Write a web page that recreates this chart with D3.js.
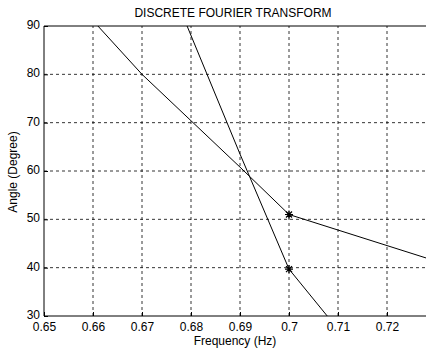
<!DOCTYPE html>
<html>
<head>
<meta charset="utf-8">
<script src="https://cdn.jsdelivr.net/npm/d3@7"></script>
<style>
  body { margin: 0; background: #fff; }
  svg { display: block; font-family: "Liberation Sans", Arial, sans-serif; }
  .grid line { stroke: #000; stroke-dasharray: 3,3; stroke-width: 0.8; }
</style>
</head>
<body>
<div id="chart"></div>
<script>
// curve 1 (shallow)
let freqA = [0.661, 0.67, 0.69, 0.70, 0.728]
let angleA = [90, 80, 60.8, 51, 42]
// curve 2 (steep)
let freqB = [0.6792, 0.69, 0.70, 0.7078]
let angleB = [90, 63.5, 39.7, 30]
// asterisk markers
let markFreq = [0.70, 0.70]
let markAngle = [51, 39.7]

let xTicks = [0.65, 0.66, 0.67, 0.68, 0.69, 0.70, 0.71, 0.72]
let yTicks = [30, 40, 50, 60, 70, 80, 90]

let W = 426, H = 353
let margin = {top: 26, left: 44, bottom: 37}

let svg = d3.select("#chart").append("svg")
    .attr("width", W)
    .attr("height", H)

let x = d3.scaleLinear().domain([0.65, 0.73]).range([margin.left, margin.left + 392])
let y = d3.scaleLinear().domain([30, 90]).range([H - margin.bottom, margin.top])

// clip for the plot region
svg.append("clipPath").attr("id", "clip")
    .append("rect")
    .attr("x", x(0.65)).attr("y", y(90))
    .attr("width", x(0.73) - x(0.65)).attr("height", y(30) - y(90))

// grid
let grid = svg.append("g").attr("class", "grid")
grid.selectAll(".gx").data(xTicks.slice(1)).enter().append("line")
    .attr("x1", d => x(d)).attr("x2", d => x(d))
    .attr("y1", y(30)).attr("y2", y(90))
grid.selectAll(".gy").data(yTicks.slice(1, -1)).enter().append("line")
    .attr("x1", x(0.65)).attr("x2", x(0.73))
    .attr("y1", d => y(d)).attr("y2", d => y(d))

// axes (MATLAB-style inward ticks)
let xAxis = d3.axisBottom(x).tickValues(xTicks).tickSizeInner(-4).tickSizeOuter(0)
    .tickFormat(d => d3.format("")(+d.toFixed(2)))
let yAxis = d3.axisLeft(y).tickValues(yTicks).tickSizeInner(-4).tickSizeOuter(0)

let gx = svg.append("g").attr("transform", `translate(0,${y(30)})`).call(xAxis)
gx.select(".domain").remove()
gx.selectAll("line").attr("stroke", "#000")
gx.selectAll("text").attr("y", 6).attr("dy", "0.71em")
    .style("font-size", "12px").attr("fill", "#000")

let gy = svg.append("g").attr("transform", `translate(${x(0.65)},0)`).call(yAxis)
gy.select(".domain").remove()
gy.selectAll("line").attr("stroke", "#000")
gy.selectAll("text").attr("x", -4).attr("dy", "0.2em")
    .style("font-size", "12px").attr("fill", "#000")

// box
svg.append("line").attr("x1", x(0.65)).attr("x2", x(0.73)).attr("y1", y(30)).attr("y2", y(30))
    .attr("stroke", "#000")
svg.append("line").attr("x1", x(0.65)).attr("x2", x(0.73)).attr("y1", y(90)).attr("y2", y(90))
    .attr("stroke", "#000")
svg.append("line").attr("x1", x(0.65)).attr("x2", x(0.65)).attr("y1", y(30)).attr("y2", y(90))
    .attr("stroke", "#000")

// curves
let line = d3.line().x(d => x(d[0])).y(d => y(d[1]))
let plot = svg.append("g").attr("clip-path", "url(#clip)")
plot.append("path").datum(d3.zip(freqA, angleA))
    .attr("d", line).attr("fill", "none").attr("stroke", "#000").attr("stroke-width", 1)
plot.append("path").datum(d3.zip(freqB, angleB))
    .attr("d", line).attr("fill", "none").attr("stroke", "#000").attr("stroke-width", 1)

// asterisks
let star = "M-4,0L4,0M0,-4L0,4M-3,-3L3,3M-3,3L3,-3"
svg.selectAll(".mark").data(d3.zip(markFreq, markAngle)).enter().append("path")
    .attr("class", "mark")
    .attr("transform", d => `translate(${x(d[0])},${y(d[1])})`)
    .attr("d", star).attr("stroke", "#000").attr("stroke-width", 1.2).attr("fill", "none")

// labels
svg.append("text").text("DISCRETE FOURIER TRANSFORM")
    .attr("x", 233).attr("y", 17).attr("text-anchor", "middle")
    .style("font-size", "12px")
svg.append("text").text("Frequency (Hz)")
    .attr("x", 235).attr("y", 345).attr("text-anchor", "middle")
    .style("font-size", "12px")
svg.append("text").text("Angle (Degree)")
    .attr("transform", "translate(17,172) rotate(-90)")
    .attr("text-anchor", "middle")
    .style("font-size", "12px")
</script>
</body>
</html>
